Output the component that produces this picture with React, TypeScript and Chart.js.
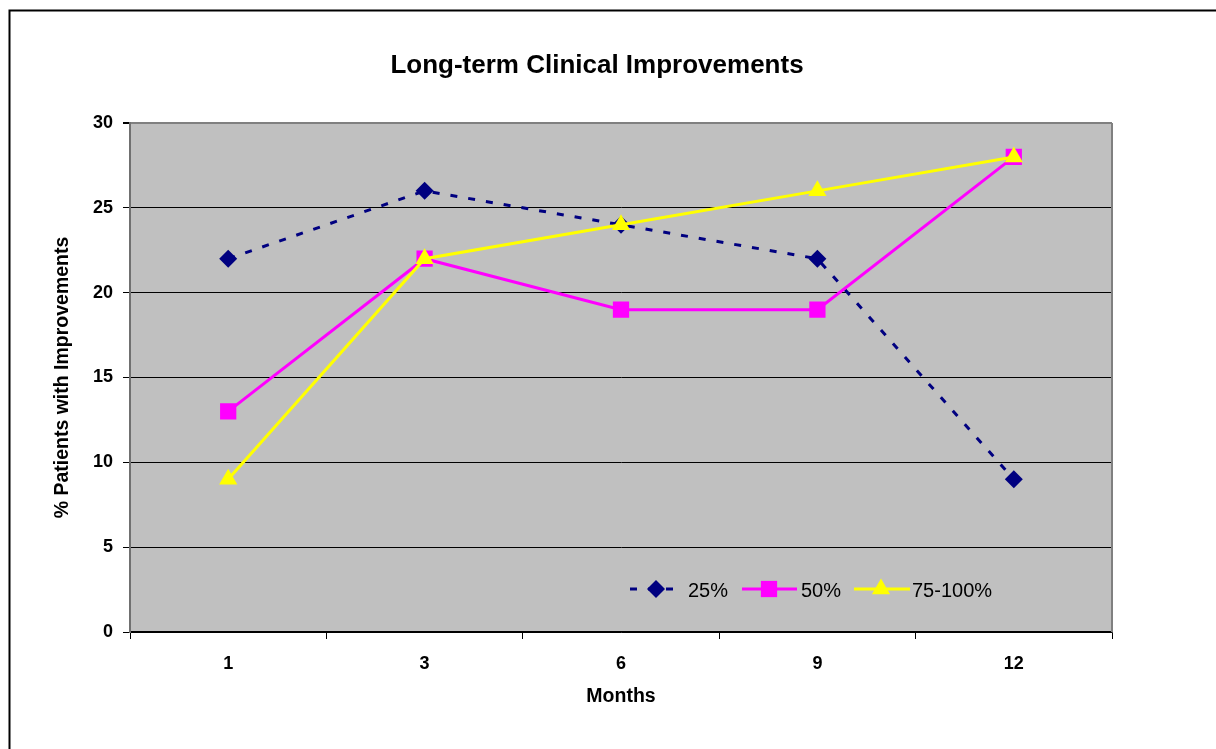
import React, { useEffect, useRef } from "react";
import { Chart, registerables } from "chart.js";

Chart.register(...registerables);

const months = ["1", "3", "6", "9", "12"];
const series25 = [22, 26, 24, 22, 9];
const series50 = [13, 22, 19, 19, 28];
const series75 = [9, 22, 24, 26, 28];
const seriesLabels = ["25%", "50%", "75-100%"];
const chartTitle = "Long-term Clinical Improvements";
const yTitle = "% Patients with Improvements";
const xTitle = "Months";

const FONT = "'Liberation Sans', Arial, sans-serif";
const NAVY = "#000080";
const MAGENTA = "#FF00FF";
const YELLOW = "#FFFF00";

function drawMarker(ctx: CanvasRenderingContext2D, style: string, x: number, y: number, r: number, color: string) {
  ctx.save();
  ctx.fillStyle = color;
  ctx.beginPath();
  if (style === "rectRot") {
    ctx.moveTo(x, y - r);
    ctx.lineTo(x + r, y);
    ctx.lineTo(x, y + r);
    ctx.lineTo(x - r, y);
  } else if (style === "rect") {
    const s = r * Math.SQRT1_2;
    ctx.rect(x - s, y - s, 2 * s, 2 * s);
  } else {
    ctx.moveTo(x, y - r);
    ctx.lineTo(x + r * Math.sin((2 * Math.PI) / 3), y - r * Math.cos((2 * Math.PI) / 3));
    ctx.lineTo(x + r * Math.sin((4 * Math.PI) / 3), y - r * Math.cos((4 * Math.PI) / 3));
  }
  ctx.closePath();
  ctx.fill();
  ctx.restore();
}

const decorPlugin = {
  id: "decor",
  beforeDraw(chart: any) {
    const { ctx, chartArea } = chart;
    ctx.save();
    ctx.fillStyle = "#FFFFFF";
    ctx.fillRect(0, 0, chart.width, chart.height);
    ctx.fillStyle = "#C0C0C0";
    ctx.fillRect(chartArea.left, chartArea.top, chartArea.right - chartArea.left, chartArea.bottom - chartArea.top);
    ctx.restore();
  },
  afterDraw(chart: any) {
    const { ctx, chartArea } = chart;
    ctx.save();
    ctx.strokeStyle = "#000000";
    ctx.lineWidth = 2;
    ctx.beginPath();
    ctx.moveTo(9.5, chart.height + 5);
    ctx.lineTo(9.5, 10.5);
    ctx.lineTo(chart.width + 5, 10.5);
    ctx.stroke();
    ctx.strokeStyle = "#808080";
    ctx.lineWidth = 2;
    ctx.beginPath();
    ctx.moveTo(chartArea.right, chartArea.top);
    ctx.lineTo(chartArea.right, chartArea.bottom);
    ctx.stroke();
    ctx.fillStyle = "#000000";
    ctx.font = `bold 26px ${FONT}`;
    ctx.textAlign = "center";
    ctx.textBaseline = "alphabetic";
    ctx.fillText(chartTitle, 597, 73);
    const items = [
      { x1: 630, x2: 676, mx: 656, tx: 688 },
      { x1: 742, x2: 797, mx: 769, tx: 801 },
      { x1: 854, x2: 910, mx: 881, tx: 912 },
    ];
    const ly = 589;
    chart.data.datasets.forEach((ds: any, i: number) => {
      const it = items[i];
      ctx.save();
      ctx.strokeStyle = ds.borderColor;
      ctx.lineWidth = ds.borderWidth;
      ctx.setLineDash(ds.borderDash || []);
      ctx.beginPath();
      ctx.moveTo(it.x1, ly);
      ctx.lineTo(it.x2, ly);
      ctx.stroke();
      ctx.restore();
      drawMarker(ctx, ds.pointStyle, it.mx, ly, ds.pointRadius, ds.backgroundColor);
      ctx.fillStyle = "#000000";
      ctx.font = `20px ${FONT}`;
      ctx.textAlign = "left";
      ctx.textBaseline = "alphabetic";
      ctx.fillText(ds.label, it.tx, 597);
    });
    ctx.restore();
  },
};

export default function App() {
  const ref = useRef<HTMLCanvasElement | null>(null);
  useEffect(() => {
    if (!ref.current) return;
    const chart = new Chart(ref.current, {
      type: "line",
      data: {
        labels: months,
        datasets: [
          {
            label: seriesLabels[0],
            data: series25,
            borderColor: NAVY,
            backgroundColor: NAVY,
            borderWidth: 3,
            borderDash: [7, 11],
            pointStyle: "rectRot",
            pointRadius: 9,
            pointBorderWidth: 0,
            pointBackgroundColor: NAVY,
            tension: 0,
            order: 3,
          } as any,
          {
            label: seriesLabels[1],
            data: series50,
            borderColor: MAGENTA,
            backgroundColor: MAGENTA,
            borderWidth: 3,
            pointStyle: "rect",
            pointRadius: 11.5,
            pointBorderWidth: 0,
            pointBackgroundColor: MAGENTA,
            tension: 0,
            order: 2,
          } as any,
          {
            label: seriesLabels[2],
            data: series75,
            borderColor: YELLOW,
            backgroundColor: YELLOW,
            borderWidth: 3,
            pointStyle: "triangle",
            pointRadius: 10.5,
            pointBorderWidth: 0,
            pointBackgroundColor: YELLOW,
            tension: 0,
            order: 1,
          } as any,
        ],
      },
      options: {
        responsive: false,
        animation: false,
        devicePixelRatio: 1,
        layout: { padding: { top: 123, right: 104, left: 0, bottom: 0 } },
        plugins: {
          legend: { display: false },
          title: { display: false },
          tooltip: { enabled: false },
        },
        scales: {
          x: {
            type: "category",
            offset: true,
            grid: {
              offset: true,
              drawOnChartArea: false,
              drawTicks: true,
              tickLength: 7,
              color: "#000000",
              lineWidth: 1,
            },
            border: { display: true, color: "#000000", width: 1.5 },
            ticks: {
              color: "#000000",
              font: { family: FONT, size: 18, weight: "bold" },
              padding: 14,
              maxRotation: 0,
            },
            title: {
              display: true,
              text: xTitle,
              color: "#000000",
              font: { family: FONT, size: 19.5, weight: "bold" },
              padding: { top: 0, bottom: 41 },
            },
            afterFit: (scale: any) => {
              scale.height = 117;
            },
          },
          y: {
            min: 0,
            max: 30,
            ticks: {
              stepSize: 5,
              color: "#000000",
              font: { family: FONT, size: 18, weight: "bold" },
              padding: 10,
            },
            grid: {
              color: (c: any) => (c.tick && c.tick.value === 30 ? "#808080" : "#000000"),
              lineWidth: (c: any) => (c.tick && c.tick.value === 30 ? 2 : 1),
              tickColor: "#000000",
              tickLength: 7,
              drawTicks: true,
            },
            border: { display: true, color: "#707070", width: 2 },
            title: {
              display: true,
              text: yTitle,
              color: "#000000",
              font: { family: FONT, size: 19.5, weight: "bold" },
              padding: { top: 51, bottom: 0 },
            },
            afterFit: (scale: any) => {
              scale.width = 130;
            },
          },
        },
      } as any,
      plugins: [decorPlugin],
    });
    return () => chart.destroy();
  }, []);
  return (
    <div style={{ position: "absolute", left: 0, top: 0, width: 1216, height: 749 }}>
      <canvas ref={ref} width={1216} height={749} style={{ display: "block", width: 1216, height: 749 }} />
    </div>
  );
}
